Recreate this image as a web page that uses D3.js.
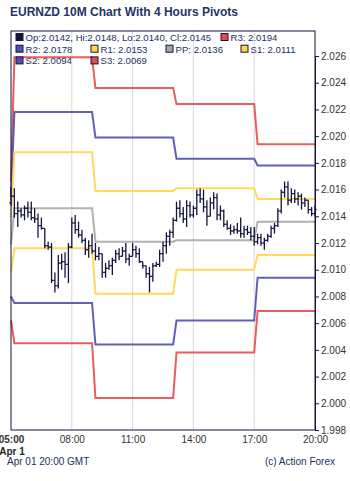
<!DOCTYPE html>
<html>
<head>
<meta charset="utf-8">
<script src="https://cdn.jsdelivr.net/npm/d3@7.9.0/dist/d3.min.js"></script>
<style>
  body { margin: 0; background: #fff; }
  svg { display: block; font-family: "Liberation Sans", Arial, sans-serif; }
</style>
</head>
<body>
<div id="chart"></div>
<script>
// ---------- data ----------
// 10 minute bars from 05:00 to 20:00 GMT, Apr 01
const barOpen = [2.0150,2.0155,2.0142,2.0144,2.0141,2.0146,2.0143,2.0139,2.0138,2.0133,
  2.0131,2.0118,2.0117,2.0092,2.0088,2.0105,2.0106,2.0104,2.0117,2.0135,
  2.0130,2.0126,2.0122,2.0115,2.0118,2.0114,2.0110,2.0112,2.0098,2.0101,
  2.0103,2.0107,2.0112,2.0110,2.0114,2.0108,2.0110,2.0115,2.0112,2.0106,
  2.0103,2.0097,2.0095,2.0103,2.0104,2.0112,2.0118,2.0125,2.0128,2.0137,
  2.0146,2.0142,2.0138,2.0148,2.0141,2.0146,2.0156,2.0153,2.0147,2.0140,
  2.0150,2.0154,2.0141,2.0144,2.0134,2.0131,2.0129,2.0130,2.0129,2.0127,
  2.0130,2.0128,2.0125,2.0121,2.0124,2.0120,2.0122,2.0125,2.0131,2.0133,
  2.0144,2.0158,2.0162,2.0152,2.0157,2.0153,2.0155,2.0150,2.0152,2.0145,
  2.0142];
const barHigh = [2.0162,2.0161,2.0151,2.0146,2.0148,2.0151,2.0151,2.0146,2.0142,2.0139,
  2.0131,2.0121,2.0120,2.0098,2.0111,2.0112,2.0113,2.0120,2.0139,2.0141,
  2.0136,2.0130,2.0124,2.0122,2.0127,2.0120,2.0117,2.0112,2.0105,2.0107,
  2.0109,2.0115,2.0116,2.0117,2.0120,2.0112,2.0120,2.0118,2.0116,2.0106,
  2.0103,2.0102,2.0105,2.0106,2.0115,2.0121,2.0128,2.0130,2.0139,2.0151,
  2.0152,2.0147,2.0152,2.0151,2.0148,2.0160,2.0161,2.0160,2.0152,2.0154,
  2.0158,2.0157,2.0148,2.0145,2.0137,2.0134,2.0133,2.0135,2.0139,2.0133,
  2.0133,2.0132,2.0132,2.0127,2.0127,2.0124,2.0127,2.0133,2.0135,2.0146,
  2.0160,2.0166,2.0166,2.0161,2.0160,2.0158,2.0157,2.0154,2.0152,2.0147,
  2.0148];
const barLow = [2.0148,2.0139,2.0132,2.0139,2.0137,2.0139,2.0137,2.0135,2.0124,2.0130,
  2.0116,2.0115,2.0090,2.0083,2.0086,2.0100,2.0094,2.0090,2.0116,2.0127,
  2.0124,2.0120,2.0111,2.0109,2.0112,2.0107,2.0107,2.0094,2.0094,2.0100,
  2.0096,2.0105,2.0107,2.0110,2.0105,2.0103,2.0110,2.0109,2.0105,2.0101,
  2.0094,2.0083,2.0091,2.0102,2.0102,2.0106,2.0112,2.0118,2.0124,2.0136,
  2.0139,2.0135,2.0132,2.0139,2.0139,2.0141,2.0150,2.0143,2.0133,2.0140,
  2.0145,2.0137,2.0137,2.0132,2.0130,2.0126,2.0127,2.0127,2.0124,2.0124,
  2.0126,2.0122,2.0118,2.0119,2.0118,2.0115,2.0121,2.0124,2.0127,2.0132,
  2.0142,2.0154,2.0148,2.0150,2.0150,2.0148,2.0145,2.0147,2.0142,2.0140,
  2.0140];
const barClose = [2.0155,2.0142,2.0144,2.0141,2.0146,2.0143,2.0139,2.0138,2.0133,2.0131,
  2.0118,2.0117,2.0092,2.0088,2.0105,2.0106,2.0104,2.0117,2.0135,2.0130,
  2.0126,2.0122,2.0115,2.0118,2.0114,2.0110,2.0112,2.0098,2.0101,2.0103,
  2.0107,2.0112,2.0110,2.0114,2.0108,2.0110,2.0115,2.0112,2.0106,2.0103,
  2.0097,2.0095,2.0103,2.0104,2.0112,2.0118,2.0125,2.0128,2.0137,2.0146,
  2.0142,2.0138,2.0148,2.0141,2.0146,2.0156,2.0153,2.0147,2.0140,2.0150,
  2.0154,2.0141,2.0144,2.0134,2.0131,2.0129,2.0130,2.0129,2.0127,2.0130,
  2.0128,2.0125,2.0121,2.0124,2.0120,2.0122,2.0125,2.0131,2.0133,2.0144,
  2.0158,2.0162,2.0152,2.0157,2.0153,2.0155,2.0150,2.0152,2.0145,2.0142,
  2.0145];

// 4 hour pivot periods (start hour GMT)
const periodStart = [1, 5, 9, 13, 17];
const pivR3 = [2.0166, 2.0259, 2.0236, 2.0224, 2.0194];
const pivR2 = [2.0154, 2.0218, 2.0199, 2.0183, 2.0178];
const pivR1 = [2.0139, 2.0188, 2.0159, 2.0161, 2.0153];
const pivPP = [2.0119, 2.0146, 2.0121, 2.0122, 2.0136];
const pivS1 = [2.0098, 2.0116, 2.0082, 2.0100, 2.0111];
const pivS2 = [2.0080, 2.0075, 2.0044, 2.0062, 2.0094];
const pivS3 = [2.0062, 2.0045, 2.0004, 2.0038, 2.0069];

const yTicks = [1.998, 2.000, 2.002, 2.004, 2.006, 2.008, 2.010, 2.012, 2.014, 2.016, 2.018, 2.020, 2.022, 2.024, 2.026];
const xTickHours = [5, 8, 11, 14, 17, 20];

const width = 350, height = 481;
const plot = { left: 11, right: 315, top: 31, bottom: 430 };

const t0 = Date.UTC(2020, 3, 1, 5, 0);
const hourDate = h => new Date(Date.UTC(2020, 3, 1, h, 0));
const bars = barOpen.map((o, i) => ({
  t: new Date(t0 + i * 10 * 60000),
  o, h: barHigh[i], l: barLow[i], c: barClose[i]
}));

const svg = d3.select("#chart").append("svg")
  .attr("width", width)
  .attr("height", height);

const x = d3.scaleUtc()
  .domain([hourDate(5), hourDate(20)])
  .range([plot.left, plot.right]);

const y = d3.scaleLinear()
  .domain([1.998, 2.026])
  .range([plot.bottom, 56]);

// title
svg.append("text")
  .attr("x", 10).attr("y", 16)
  .attr("font-size", 12).attr("font-weight", "bold")
  .attr("fill", "#1f3463")
  .text("EURNZD 10M Chart With 4 Hours Pivots");

// vertical grid
svg.append("g")
  .selectAll("line")
  .data(xTickHours.slice(1, -1))
  .join("line")
  .attr("x1", d => x(hourDate(d)))
  .attr("x2", d => x(hourDate(d)))
  .attr("y1", plot.top).attr("y2", plot.bottom)
  .attr("stroke", "#d9d9de").attr("stroke-width", 1);

// pivot lines
function pivotAt(arr, t) {
  const h = t.getUTCHours() + t.getUTCMinutes() / 60;
  let k = 0;
  periodStart.forEach((s, i) => { if (s < h) k = i; });
  return arr[k];
}

const pivots = [
  { name: "R3", vals: pivR3, color: "#e64b4b" },
  { name: "R2", vals: pivR2, color: "#4f4fae" },
  { name: "R1", vals: pivR1, color: "#ffd64a" },
  { name: "PP", vals: pivPP, color: "#a8a8a8" },
  { name: "S1", vals: pivS1, color: "#ffd64a" },
  { name: "S2", vals: pivS2, color: "#4f4fae" },
  { name: "S3", vals: pivS3, color: "#e64b4b" }
];

const line = d3.line()
  .x(d => x(d.t))
  .y(d => y(d.v));

svg.append("g")
  .selectAll("path")
  .data(pivots)
  .join("path")
  .attr("fill", "none")
  .attr("stroke", d => d.color)
  .attr("stroke-width", 2)
  .attr("stroke-opacity", 0.9)
  .attr("d", p => line(bars.map(b => ({ t: b.t, v: pivotAt(p.vals, b.t) }))));

// OHLC bars
const barG = svg.append("g")
  .attr("stroke", "#14143c")
  .attr("stroke-width", 1.3);

barG.selectAll("line.hl")
  .data(bars)
  .join("line")
  .attr("class", "hl")
  .attr("x1", d => x(d.t)).attr("x2", d => x(d.t))
  .attr("y1", d => y(d.h)).attr("y2", d => y(d.l));

barG.selectAll("line.op")
  .data(bars)
  .join("line")
  .attr("class", "op")
  .attr("x1", d => x(d.t) - 1.7).attr("x2", d => x(d.t))
  .attr("y1", d => y(d.o)).attr("y2", d => y(d.o));

barG.selectAll("line.cl")
  .data(bars)
  .join("line")
  .attr("class", "cl")
  .attr("x1", d => x(d.t)).attr("x2", d => x(d.t) + 1.7)
  .attr("y1", d => y(d.c)).attr("y2", d => y(d.c));

// frame
svg.append("rect")
  .attr("x", plot.left).attr("y", plot.top)
  .attr("width", plot.right - plot.left)
  .attr("height", plot.bottom - plot.top)
  .attr("fill", "none")
  .attr("stroke", "#14143c").attr("stroke-width", 1);

// right axis
const yAxis = svg.append("g")
  .attr("transform", `translate(${plot.right},0)`)
  .call(d3.axisRight(y).tickValues(yTicks).tickFormat(d3.format(".3f")).tickSize(4).tickPadding(2));
yAxis.select(".domain").attr("stroke", "#14143c");
yAxis.selectAll(".tick line").attr("stroke", "#14143c");
yAxis.selectAll("text")
  .attr("font-size", 10)
  .attr("font-family", "Liberation Sans, Arial, sans-serif")
  .attr("fill", "#333");

// bottom axis
const xAxis = svg.append("g")
  .attr("transform", `translate(0,${plot.bottom})`)
  .call(d3.axisBottom(x).tickValues(xTickHours.map(hourDate)).tickFormat(d3.utcFormat("%H:%M")).tickSize(0).tickPadding(6));
xAxis.select(".domain").remove();
xAxis.selectAll("text")
  .attr("font-size", 10)
  .attr("font-family", "Liberation Sans, Arial, sans-serif")
  .attr("fill", "#333")
  .attr("font-weight", (d, i) => i === 0 ? "bold" : null);

svg.append("text")
  .attr("x", x(hourDate(5)) + 1).attr("y", 455)
  .attr("text-anchor", "middle")
  .attr("font-size", 10).attr("font-weight", "bold")
  .attr("fill", "#222")
  .text("Apr 1");

// legend
const legendItems = [
  { label: "Op:2.0142, Hi:2.0148, Lo:2.0140, Cl:2.0145", color: "#14143c", col: 0, row: 0 },
  { label: "R3: 2.0194", color: "#e64b4b", col: 205, row: 0 },
  { label: "R2: 2.0178", color: "#4f4fae", col: 0, row: 1 },
  { label: "R1: 2.0153", color: "#ffd64a", col: 75, row: 1 },
  { label: "PP: 2.0136", color: "#a8a8a8", col: 150, row: 1 },
  { label: "S1: 2.0111", color: "#ffd64a", col: 225, row: 1 },
  { label: "S2: 2.0094", color: "#4f4fae", col: 0, row: 2 },
  { label: "S3: 2.0069", color: "#e64b4b", col: 75, row: 2 }
];

const legend = svg.append("g")
  .selectAll("g")
  .data(legendItems)
  .join("g")
  .attr("transform", d => `translate(${16 + d.col},${33.5 + d.row * 11.7})`);

legend.append("rect")
  .attr("width", 7).attr("height", 7)
  .attr("fill", d => d.color)
  .attr("stroke", "#14143c").attr("stroke-width", 1);

legend.append("text")
  .attr("x", 9.5).attr("y", 7.5)
  .attr("font-size", 9.6)
  .attr("fill", "#23305e")
  .text(d => d.label);

// footer
svg.append("text")
  .attr("x", 7).attr("y", 465)
  .attr("font-size", 10).attr("fill", "#23305e")
  .text("Apr 01 20:00 GMT");

svg.append("text")
  .attr("x", 335).attr("y", 465)
  .attr("text-anchor", "end")
  .attr("font-size", 10).attr("fill", "#23305e")
  .text("(c) Action Forex");
</script>
</body>
</html>
